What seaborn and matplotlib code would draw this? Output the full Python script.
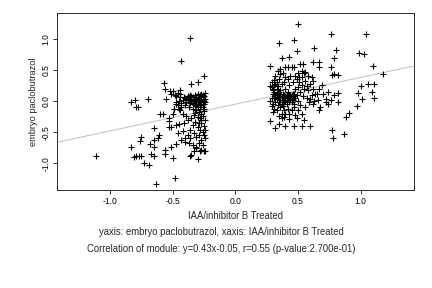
import matplotlib
matplotlib.use("Agg")
import matplotlib.pyplot as plt
import seaborn as sns
import pandas as pd

# ---- data ----
left_x = [-1.11, -0.83, -0.83, -0.80, -0.79, -0.78, -0.70, -0.81, -0.79, -0.77, -0.75,
          -0.75, -0.76, -0.73, -0.69, -0.68, -0.65, -0.65, -0.65, -0.67, -0.65, -0.63,
          -0.62, -0.61, -0.60, -0.58, -0.57, -0.56, -0.55, -0.52, -0.51, -0.53, -0.53,
          -0.53, -0.51, -0.56, -0.56, -0.51, -0.50, -0.48, -0.50, -0.49, -0.47, -0.47,
          -0.45, -0.46, -0.47, -0.43, -0.36, -0.35, -0.30, -0.25, -0.44, -0.43, -0.42,
          -0.40, -0.40, -0.36, -0.35, -0.33, -0.31, -0.30, -0.27, -0.25, -0.24]
left_y = [-0.88, -0.74, -0.02, 0.02, -0.10, -0.10, 0.03, -0.90, -0.89, -0.88, -0.88,
          -0.57, -0.64, -0.99, -1.03, -0.69, -0.63, -0.74, -0.43, -0.85, -0.89, -1.33,
          -0.60, -0.54, -0.20, -0.20, 0.29, 0.20, 0.04, 0.16, 0.12, -0.27, -0.32,
          -0.41, -0.42, -0.79, -0.85, -0.73, -0.92, -1.23, -0.21, -0.13, -0.01, -0.39,
          -0.37, -0.52, -0.69, 0.64, 1.01, 0.28, 0.31, 0.41, 0.12, -0.63, -0.48,
          -0.59, -0.66, -0.88, -0.87, -0.80, -0.73, -0.93, -0.79, -0.81, -0.80]

dense_left_x = [-0.40, -0.38, -0.37, -0.36, -0.35, -0.34, -0.33, -0.32, -0.31, -0.30,
                -0.29, -0.28, -0.27, -0.26, -0.25, -0.24, -0.33, -0.31, -0.29, -0.27,
                -0.26, -0.25, -0.24, -0.35, -0.34, -0.32, -0.30, -0.28, -0.28, -0.30,
                -0.36, -0.38, -0.39, -0.41, -0.42, -0.43, -0.44, -0.45, -0.46, -0.45,
                -0.43, -0.47, -0.40, -0.37, -0.34, -0.50, -0.48, -0.46, -0.44, -0.42,
                -0.39, -0.41, -0.38, -0.47, -0.49, -0.44, -0.27, -0.25, -0.26, -0.28,
                -0.31, -0.33, -0.35, -0.37, -0.39, -0.24, -0.26, -0.29, -0.32, -0.36]
dense_left_y = [0.05, 0.08, 0.03, 0.10, 0.00, 0.06, -0.03, 0.09, 0.02, -0.05,
                0.07, 0.00, 0.04, -0.02, 0.08, 0.03, 0.04, -0.08, -0.02, -0.06,
                0.10, -0.04, 0.13, 0.08, -0.05, -0.01, 0.05, 0.09, -0.10, 0.11,
                -0.03, 0.01, -0.02, 0.07, 0.02, -0.03, 0.06, 0.00, -0.06, -0.12,
                -0.09, 0.08, -0.07, -0.10, -0.13, 0.16, 0.10, 0.13, -0.15, -0.20,
                -0.24, -0.35, -0.30, -0.05, -0.12, 0.18, 0.12, 0.00, 0.06, 0.02,
                0.06, 0.00, 0.04, 0.06, 0.03, -0.01, 0.01, 0.03, -0.06, 0.01]

column_x = [-0.31, -0.29, -0.27, -0.25, -0.30, -0.28, -0.26, -0.24, -0.32, -0.29,
            -0.27, -0.25, -0.30, -0.28, -0.26, -0.24, -0.33, -0.35, -0.34, -0.36,
            -0.38, -0.36, -0.33, -0.31, -0.29, -0.27, -0.25, -0.24, -0.37, -0.34,
            -0.29, -0.26, -0.31, -0.28, -0.30, -0.28, -0.26, -0.25, -0.32, -0.27]
column_y = [-0.15, -0.18, -0.20, -0.16, -0.25, -0.28, -0.24, -0.30, -0.33, -0.35,
            -0.36, -0.40, -0.42, -0.46, -0.50, -0.47, -0.22, -0.27, -0.38, -0.47,
            -0.55, -0.60, -0.52, -0.58, -0.55, -0.62, -0.55, -0.60, -0.68, -0.70,
            -0.68, -0.70, -0.76, -0.80, -0.10, -0.13, -0.09, -0.12, -0.19, -0.30]

right_x = [0.50, 0.35, 0.47, 0.49, 0.63, 0.76, 1.04, 0.80, 0.79, 0.67, 0.62, 0.67,
           0.76, 0.99, 1.03, 1.10, 1.18, 1.06, 1.00, 1.11, 1.09, 1.11, 0.98, 1.01,
           0.97, 0.91, 0.88, 0.87, 0.77, 0.78, 0.60, 0.53, 0.47, 0.40, 0.32, 0.35,
           0.37, 0.43, 0.49, 0.28, 0.39, 0.28, 0.37, 0.43, 0.40, 0.42, 0.45, 0.47,
           0.52, 0.54, 0.53, 0.56, 0.58, 0.61, 0.62, 0.77, 0.79, 0.82, 0.82, 0.79,
           0.76, 0.82, 0.74, 0.70, 0.69, 0.67, 0.65, 0.66, 0.72, 0.68, 0.67, 0.62,
           0.60, 0.74, 0.72]
right_y = [1.24, 0.94, 0.98, 0.80, 0.86, 1.07, 1.07, 0.82, 0.69, 0.62, 0.62, 0.54,
           0.55, 0.77, 0.76, 0.57, 0.44, 0.27, 0.24, 0.27, 0.15, 0.05, 0.13, 0.03,
           -0.08, -0.19, -0.25, -0.53, -0.47, -0.59, -0.40, -0.40, -0.40, -0.40, -0.43, -0.37,
           -0.28, -0.29, -0.28, -0.32, -0.14, 0.57, 0.69, 0.70, 0.54, 0.54, 0.54, 0.54,
           0.59, 0.59, 0.48, 0.46, 0.41, 0.39, 0.33, 0.42, 0.44, 0.42, 0.13, 0.09,
           0.02, -0.01, 0.15, 0.12, 0.26, 0.20, 0.12, 0.02, -0.01, -0.09, -0.14, -0.05,
           0.04, -0.05, 0.04]

dense_right_x = [0.28, 0.29, 0.30, 0.31, 0.30, 0.29, 0.28, 0.30, 0.29, 0.31, 0.30,
                 0.32, 0.31, 0.33, 0.33, 0.32, 0.33, 0.32, 0.34, 0.33, 0.35, 0.34,
                 0.35, 0.36, 0.37, 0.36, 0.35, 0.36, 0.37, 0.36, 0.37, 0.38, 0.39,
                 0.39, 0.38, 0.40, 0.40, 0.41, 0.40, 0.41, 0.42, 0.40, 0.43, 0.42,
                 0.43, 0.44, 0.44, 0.45, 0.45, 0.46, 0.46, 0.47, 0.47, 0.48, 0.48,
                 0.49, 0.49, 0.50, 0.50, 0.51, 0.52, 0.52, 0.53, 0.54, 0.55, 0.56,
                 0.56, 0.57, 0.58, 0.59, 0.60, 0.61, 0.62, 0.63, 0.64, 0.42, 0.44,
                 0.46, 0.38, 0.39, 0.41, 0.43, 0.35, 0.34, 0.31, 0.30, 0.32, 0.29,
                 0.47, 0.45, 0.43, 0.39, 0.35, 0.50, 0.53, 0.48, 0.55, 0.36, 0.34,
                 0.38, 0.42, 0.48, 0.50, 0.51, 0.53, 0.55, 0.57, 0.44, 0.46, 0.40,
                 0.37, 0.33, 0.31, 0.45, 0.47, 0.41, 0.39, 0.36, 0.34, 0.43]
dense_right_y = [0.24, 0.22, 0.18, 0.26, 0.12, 0.05, 0.00, -0.04, -0.08, -0.12, -0.18,
                 0.40, 0.34, 0.30, 0.20, 0.10, 0.04, -0.02, -0.06, -0.15, 0.15, 0.24,
                 0.36, 0.44, 0.28, 0.18, 0.08, 0.02, -0.04, -0.10, -0.20, 0.12, 0.30,
                 0.05, -0.08, 0.38, 0.20, 0.10, 0.00, -0.05, -0.12, -0.20, 0.06, 0.15,
                 0.26, 0.40, 0.02, -0.02, 0.10, 0.08, 0.30, 0.12, -0.04, 0.05, 0.20,
                 0.36, 0.10, 0.22, 0.00, 0.38, 0.14, -0.06, 0.26, 0.08, 0.20, 0.32,
                 -0.10, 0.05, 0.18, -0.02, 0.28, 0.10, 0.20, 0.00, 0.12, 0.05, 0.10,
                 0.02, 0.02, -0.02, 0.02, -0.02, -0.02, 0.06, 0.05, 0.20, 0.28, 0.30,
                 -0.10, -0.15, -0.20, -0.26, -0.24, -0.15, -0.20, -0.22, -0.30, 0.52, 0.48,
                 0.45, 0.35, 0.40, 0.45, 0.30, 0.38, 0.45, 0.25, 0.07, 0.12, 0.08,
                 0.07, 0.12, 0.15, 0.04, 0.08, 0.06, 0.09, 0.11, 0.13, 0.09]

slope = 0.43
intercept = -0.05

x_label = "IAA/inhibitor B Treated"
y_label = "embryo paclobutrazol"
subtitle1 = "yaxis: embryo paclobutrazol, xaxis: IAA/inhibitor B Treated"
subtitle2 = "Correlation of module: y=0.43x-0.05, r=0.55 (p-value:2.700e-01)"
x_ticks = [-1.0, -0.5, 0.0, 0.5, 1.0]
y_ticks = [-1.0, -0.5, 0.0, 0.5, 1.0]

df = pd.DataFrame({
    "x": left_x + dense_left_x + column_x + right_x + dense_right_x,
    "y": left_y + dense_left_y + column_y + right_y + dense_right_y,
})

sns.set_style("ticks")
plt.rcParams["font.family"] = ["Liberation Sans", "DejaVu Sans"]

fig = plt.figure(figsize=(6, 4), dpi=72)
ax = fig.add_axes([0.1327, 0.340, 0.8253, 0.616])

ax.axline((0, intercept), slope=slope, color="#c0c0c0", lw=1.0, zorder=1)
sns.scatterplot(data=df, x="x", y="y", marker="+", color="black", s=26,
                linewidth=1.1, ax=ax, zorder=2, legend=False)

ax.set_xlim(-1.42, 1.425)
ax.set_ylim(-1.43, 1.42)
ax.set_xticks(x_ticks)
ax.set_yticks(y_ticks)
ax.set_xticklabels([f"{t:.1f}" for t in x_ticks], fontsize=8.5)
ax.set_yticklabels([f"{t:.1f}" for t in y_ticks], fontsize=8.5, rotation=90, va="center")
ax.tick_params(direction="out", length=4, width=0.8, colors="black", pad=3)
for sp in ax.spines.values():
    sp.set_visible(True)
    sp.set_linewidth(0.8)
    sp.set_color("black")

ax.set_xlabel("")
ax.set_ylabel("")
fig.text(0.545, 0.25, x_label, ha="center", va="center", fontsize=9.5)
fig.text(0.077, 0.648, y_label, ha="center", va="center", rotation=90, fontsize=9.3)
fig.text(0.513, 0.193, subtitle1, ha="center", va="center", fontsize=9.5)
fig.text(0.513, 0.134, subtitle2, ha="center", va="center", fontsize=9.5)

fig.savefig("out.png", dpi=72)
